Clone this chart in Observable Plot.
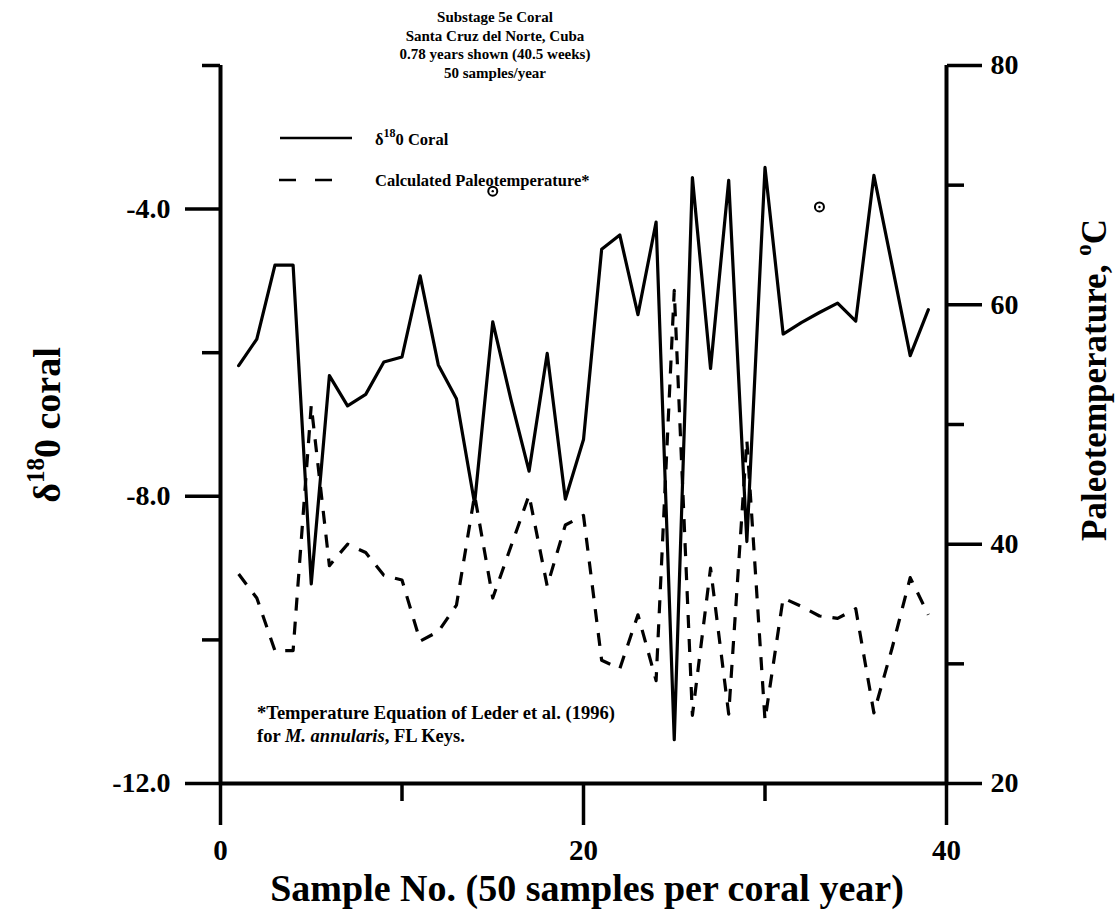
<!DOCTYPE html>
<html>
<head>
<meta charset="utf-8">
<script src="https://cdn.jsdelivr.net/npm/d3@7"></script>
<script src="https://cdn.jsdelivr.net/npm/@observablehq/plot@0.6"></script>
<style>
  html, body { margin: 0; padding: 0; background: #fff; }
  #chart { width: 1118px; height: 910px; }
</style>
</head>
<body>
<div id="chart"></div>
<script>
// ---- data ----
const samples = [1,2,3,4,5,6,7,8,9,10,11,12,13,14,15,16,17,18,19,20,21,22,23,24,25,26,27,28,29,30,31,32,33,34,35,36,37,38,39];
const d18O = [-6.18,-5.81,-4.78,-4.78,-9.22,-6.32,-6.74,-6.58,-6.13,-6.06,-4.93,-6.17,-6.64,-8.10,-5.57,-6.65,-7.65,-6.01,-8.04,-7.21,
              -4.56,-4.36,-5.47,-4.18,-11.39,-3.56,-6.22,-3.60,-8.63,-3.42,-5.74,-5.58,-5.44,-5.31,-5.56,-3.53,-4.78,-6.04,-5.40];
const paleoTemp = [37.5,35.5,31.1,31.1,51.6,38.2,40.0,39.3,37.4,37.0,31.9,32.7,34.9,44.1,35.5,39.8,44.1,36.5,41.6,42.4,
                   30.3,29.6,34.1,28.6,61.2,25.7,38.0,25.8,48.7,25.3,35.5,34.8,34.0,33.8,34.6,25.9,31.3,37.2,34.1];
const markerX = [15, 33];
const markerY = [-3.75, -3.97];
const leftMajor = [-12, -8, -4];
const leftMinor = [-10, -6, -2];
const rightMajor = [20, 40, 60, 80];
const rightMinor = [30, 50, 70];
const xMajor = [0, 20, 40];
const xMinor = [10, 30];
const titleLines = ["Substage 5e Coral", "Santa Cruz del Norte, Cuba", "0.78 years shown (40.5 weeks)", "50 samples/year"];

const data = samples.map((s, i) => ({s, d: d18O[i], t: paleoTemp[i]}));
const markers = markerX.map((x, i) => ({x, y: markerY[i]}));

// right (temperature) axis mapped onto the left scale: 20..80 <-> -12..-2
const toLeft = t => (t - 20) / 6 - 12;
const fromLeft = v => (v + 12) * 6 + 20;

const FONT = "'Liberation Serif', 'Times New Roman', serif";

const plot = Plot.plot({
  width: 1118,
  height: 910,
  marginLeft: 220,
  marginRight: 172,
  marginTop: 65,
  marginBottom: 127,
  x: {domain: [0, 40]},
  y: {domain: [-12, -2]},
  style: {fontFamily: FONT, fontWeight: "bold", fontSize: "28px", color: "black", background: "white"},
  marks: [
    Plot.axisY(leftMajor, {anchor: "left", tickSize: 35, tickPadding: 15, strokeWidth: 3.5, tickFormat: d => d.toFixed(1), label: null, fontSize: 28}),
    Plot.axisY(leftMinor, {anchor: "left", tickSize: 18, strokeWidth: 3.5, tickFormat: () => "", label: null}),
    Plot.axisY(rightMajor.map(toLeft), {anchor: "right", tickSize: 35, tickPadding: 9, strokeWidth: 3.5, tickFormat: v => String(Math.round(fromLeft(v))), label: null, fontSize: 28}),
    Plot.axisY(rightMinor.map(toLeft), {anchor: "right", tickSize: 17, strokeWidth: 3.5, tickFormat: () => "", label: null}),
    Plot.axisX(xMajor, {anchor: "bottom", tickSize: 42, tickPadding: 14, strokeWidth: 3.5, label: null, fontSize: 29}),
    Plot.axisX(xMinor, {anchor: "bottom", tickSize: 18, strokeWidth: 3.5, tickFormat: () => "", label: null}),
    Plot.ruleX([0, 40], {y1: -12, y2: -2, strokeWidth: 4, stroke: "black"}),
    Plot.ruleY([-12], {x1: 0, x2: 40, strokeWidth: 4, stroke: "black"}),
    Plot.line(data, {x: "s", y: "d", stroke: "black", strokeWidth: 3.2}),
    Plot.line(data, {x: "s", y: d => toLeft(d.t), stroke: "black", strokeWidth: 3.2, strokeDasharray: "13,11", strokeLinecap: "butt"}),
    Plot.dot(markers, {x: "x", y: "y", r: 4.5, stroke: "black", strokeWidth: 2, fill: "white"}),
    Plot.dot(markers, {x: "x", y: "y", r: 1.2, fill: "black"})
  ]
});

document.getElementById("chart").appendChild(plot);

const svg = d3.select(plot);
const g = svg.append("g").attr("font-family", FONT).attr("font-weight", "bold").attr("fill", "black").attr("text-anchor", "start");

// title
titleLines.forEach((t, i) => {
  g.append("text").attr("x", 495).attr("y", 22 + i * 18.5).attr("text-anchor", "middle").attr("font-size", 15).text(t);
});

// legend
g.append("line").attr("x1", 280).attr("x2", 352).attr("y1", 138).attr("y2", 138).attr("stroke", "black").attr("stroke-width", 2.5);
const l1 = g.append("text").attr("x", 375).attr("y", 145).attr("font-size", 16.5);
l1.append("tspan").text("δ");
l1.append("tspan").attr("dy", -8).attr("font-size", 12).text("18");
l1.append("tspan").attr("dy", 8).text("0 Coral");
g.append("line").attr("x1", 279).attr("x2", 332).attr("y1", 180).attr("y2", 180).attr("stroke", "black").attr("stroke-width", 2.5).attr("stroke-dasharray", "17,19");
g.append("text").attr("x", 375).attr("y", 186).attr("font-size", 16.5).text("Calculated Paleotemperature*");

// footnote
g.append("text").attr("x", 257).attr("y", 719).attr("font-size", 18.5).text("*Temperature Equation of Leder et al. (1996)");
const f2 = g.append("text").attr("x", 257).attr("y", 742).attr("font-size", 18.5);
f2.append("tspan").text("for ");
f2.append("tspan").attr("font-style", "italic").text("M. annularis");
f2.append("tspan").text(", FL Keys.");

// x-axis title
g.append("text").attr("x", 587).attr("y", 901).attr("text-anchor", "middle").attr("font-size", 38).text("Sample No. (50 samples per coral year)");

// left title
const lt = g.append("text").attr("transform", "translate(60,425) rotate(-90)").attr("text-anchor", "middle").attr("font-size", 38);
lt.append("tspan").text("δ");
lt.append("tspan").attr("dy", -16).attr("font-size", 25).text("18");
lt.append("tspan").attr("dy", 16).text("0 coral");

// right title
const rt = g.append("text").attr("transform", "translate(1106,380) rotate(-90)").attr("text-anchor", "middle").attr("font-size", 35);
rt.append("tspan").text("Paleotemperature, ");
rt.append("tspan").attr("dy", -15).attr("font-size", 23).text("o");
rt.append("tspan").attr("dy", 15).text("C");
</script>
</body>
</html>
